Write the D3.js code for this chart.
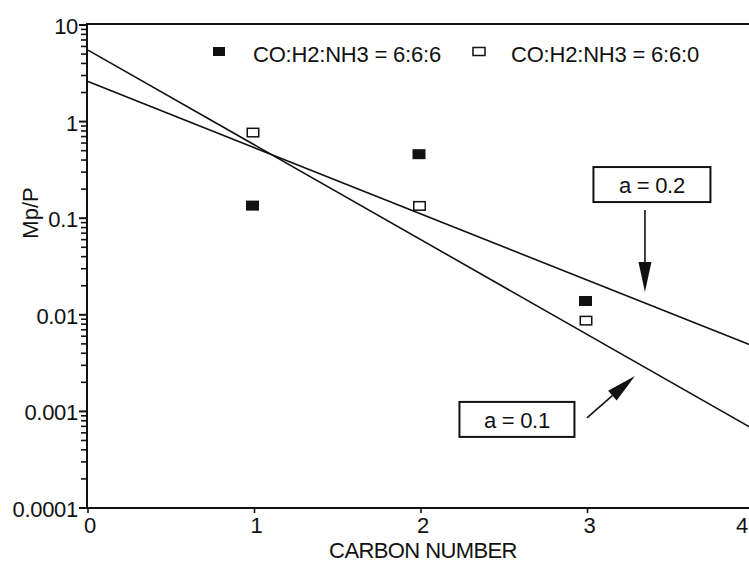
<!DOCTYPE html>
<html>
<head>
<meta charset="utf-8">
<script src="https://cdn.jsdelivr.net/npm/d3@7/dist/d3.min.js"></script>
<style>
  html, body { margin: 0; padding: 0; background: #fff; }
  svg { display: block; }
  text { font-family: "Liberation Sans", Arial, Helvetica, sans-serif; fill: #111; }
</style>
</head>
<body>
<svg id="chart" width="749" height="563"></svg>
<script>
// ---- data ----
const carbonNumbers = [1, 2, 3];
const series666 = [0.135, 0.46, 0.0139];   // CO:H2:NH3 = 6:6:6 (filled)
const series660 = [0.77, 0.134, 0.0087];   // CO:H2:NH3 = 6:6:0 (open)
const seriesNames = ["CO:H2:NH3 = 6:6:6", "CO:H2:NH3 = 6:6:0"];
const lineA02 = [{ n: 0, v: 2.6 }, { n: 4, v: 0.0047 }];
const lineA01 = [{ n: 0, v: 5.5 }, { n: 4, v: 0.00065 }];
const annotationLabels = ["a = 0.2", "a = 0.1"];
const annotationTips = [{ n: 3.345, v: 0.0172 }, { n: 3.285, v: 0.00233 }];
const xTicks = [0, 1, 2, 3, 4];
const yTicks = [0.0001, 0.001, 0.01, 0.1, 1, 10];
const yTickLabels = ["0.0001", "0.001", "0.01", "0.1", "1", "10"];
const xTitle = "CARBON NUMBER";
const yTitle = "Mp/P";

// ---- layout ----
const svg = d3.select("#chart");
const W = 749, H = 563;
const x = d3.scaleLinear().domain([0, 4]).range([88, 754]);
const y = d3.scaleLog().domain([0.0001, 10]).range([508, 25]);
const ink = "#111";
const fs = 22;

// frame: top border, left axis, bottom axis
svg.append("line").attr("x1", x(0) - 1).attr("x2", W).attr("y1", y(10) - 1).attr("y2", y(10) - 1)
  .attr("stroke", ink).attr("stroke-width", 2);
svg.append("line").attr("x1", x(0) - 1).attr("x2", x(0) - 1).attr("y1", y(10) - 2).attr("y2", y(0.0001) + 1)
  .attr("stroke", ink).attr("stroke-width", 2);
svg.append("line").attr("x1", x(0) - 2).attr("x2", W).attr("y1", y(0.0001)).attr("y2", y(0.0001))
  .attr("stroke", ink).attr("stroke-width", 2);

// y minor ticks
const minor = [];
for (let d = -4; d < 1; d++) for (let k = 2; k <= 9; k++) minor.push(k * Math.pow(10, d));
svg.append("g").selectAll("line").data(minor).join("line")
  .attr("x1", x(0) - 7).attr("x2", x(0)).attr("y1", d => y(d)).attr("y2", d => y(d))
  .attr("stroke", ink).attr("stroke-width", 1.6);
// y major ticks + labels
const yg = svg.append("g");
yg.selectAll("line").data(yTicks).join("line")
  .attr("x1", x(0) - 9).attr("x2", x(0)).attr("y1", d => y(d)).attr("y2", d => y(d))
  .attr("stroke", ink).attr("stroke-width", 2);
yg.selectAll("text").data(yTicks).join("text")
  .attr("x", 78).attr("y", d => y(d) + 9).attr("text-anchor", "end")
  .attr("font-size", fs).attr("letter-spacing", -0.3)
  .text((d, i) => yTickLabels[i]);

// x ticks + labels
const xg = svg.append("g");
xg.selectAll("line").data(xTicks).join("line")
  .attr("x1", d => x(d)).attr("x2", d => x(d)).attr("y1", y(0.0001)).attr("y2", y(0.0001) + 5)
  .attr("stroke", ink).attr("stroke-width", 1.6);
xg.selectAll("text").data(xTicks).join("text")
  .attr("x", d => Math.min(x(d) + 2, W - 7)).attr("y", 533).attr("text-anchor", "middle")
  .attr("font-size", fs).text(d => d);

// axis titles
svg.append("text").attr("x", 423).attr("y", 558).attr("text-anchor", "middle")
  .attr("font-size", fs).attr("letter-spacing", -0.6).text(xTitle);
svg.append("text").attr("transform", "translate(38,213) rotate(-90)").attr("text-anchor", "middle")
  .attr("font-size", fs).text(yTitle);

// fit lines
const lineGen = d3.line().x(d => x(d.n)).y(d => y(d.v));
[lineA02, lineA01].forEach(l => {
  svg.append("path").datum(l).attr("d", lineGen)
    .attr("fill", "none").attr("stroke", ink).attr("stroke-width", 1.6);
});

// markers
const mw = 13, mh = 10;
svg.append("g").selectAll("rect").data(carbonNumbers).join("rect")
  .attr("x", d => x(d) - 2 - mw / 2).attr("y", (d, i) => y(series666[i]) - mh / 2)
  .attr("width", mw).attr("height", mh).attr("fill", ink);
svg.append("g").selectAll("rect").data(carbonNumbers).join("rect")
  .attr("x", d => x(d) - 1.5 - (mw - 1.5) / 2).attr("y", (d, i) => y(series660[i]) - (mh - 1.5) / 2)
  .attr("width", mw - 1.5).attr("height", mh - 1.5).attr("fill", "#fff")
  .attr("stroke", ink).attr("stroke-width", 1.5);

// legend
const lg = svg.append("g");
lg.append("rect").attr("x", 213).attr("y", 47).attr("width", 12).attr("height", 9).attr("fill", ink);
lg.append("text").attr("x", 253).attr("y", 62).attr("font-size", fs).attr("letter-spacing", -0.2).text(seriesNames[0]);
lg.append("rect").attr("x", 473).attr("y", 47.5).attr("width", 12).attr("height", 8)
  .attr("fill", "#fff").attr("stroke", ink).attr("stroke-width", 1.5);
lg.append("text").attr("x", 511).attr("y", 62).attr("font-size", fs).attr("letter-spacing", -0.2).text(seriesNames[1]);

// annotations
function arrow(x1, y1, x2, y2) {
  const ang = Math.atan2(y2 - y1, x2 - x1);
  const len = 30, half = 6.5;
  const bx = x2 - len * Math.cos(ang), by = y2 - len * Math.sin(ang);
  svg.append("line").attr("x1", x1).attr("y1", y1).attr("x2", bx).attr("y2", by)
    .attr("stroke", ink).attr("stroke-width", 1.6);
  const px = -Math.sin(ang) * half, py = Math.cos(ang) * half;
  svg.append("path")
    .attr("d", `M${x2},${y2}L${bx + px},${by + py}L${bx - px},${by - py}Z`)
    .attr("fill", ink);
}
function box(cx, top, w, h, label) {
  svg.append("rect").attr("x", cx - w / 2).attr("y", top).attr("width", w).attr("height", h)
    .attr("fill", "#fff").attr("stroke", ink).attr("stroke-width", 2);
  svg.append("text").attr("x", cx).attr("y", top + h - 9).attr("text-anchor", "middle")
    .attr("font-size", fs).attr("letter-spacing", -0.3).text(label);
}
// a = 0.2 : box above, vertical arrow down
{
  const tx = x(annotationTips[0].n), ty = y(annotationTips[0].v);
  box(tx + 7, ty - 125, 117, 35, annotationLabels[0]);
  arrow(tx, ty - 82, tx, ty);
}
// a = 0.1 : box below-left, diagonal arrow up-right
{
  const tx = x(annotationTips[1].n), ty = y(annotationTips[1].v);
  box(tx - 118, ty + 26, 115, 35, annotationLabels[1]);
  arrow(tx - 48, ty + 42, tx, ty);
}
</script>
</body>
</html>
